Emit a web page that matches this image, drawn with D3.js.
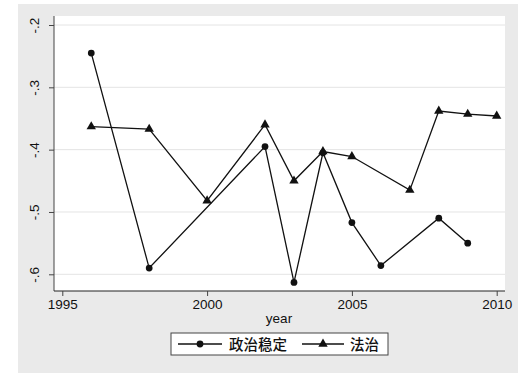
<!DOCTYPE html>
<html><head><meta charset="utf-8">
<script src="https://cdn.jsdelivr.net/npm/d3@7"></script>
<style>body{margin:0;background:#fff}svg{display:block}</style>
</head><body>
<svg id="c" width="529" height="381"></svg>
<script>
const stabilityYears = [1996, 1998, 2002, 2003, 2004, 2005, 2006, 2008, 2009];
const stabilityValues = [-0.245, -0.590, -0.395, -0.613, -0.405, -0.517, -0.586, -0.510, -0.550];
const ruleYears = [1996, 1998, 2000, 2002, 2003, 2004, 2005, 2007, 2008, 2009, 2010];
const ruleValues = [-0.363, -0.367, -0.482, -0.360, -0.450, -0.403, -0.411, -0.465, -0.338, -0.343, -0.346];
const xTicks = [1995, 2000, 2005, 2010];
const yTicks = [-0.2, -0.3, -0.4, -0.5, -0.6];
const yTickLabels = ["-.2", "-.3", "-.4", "-.5", "-.6"];
const seriesNames = ["政治稳定", "法治"];

const svg = d3.select("#c");
const font = "'Liberation Sans', Arial, sans-serif";
const cjk = "'Noto Sans CJK SC', sans-serif";

svg.append("rect").attr("x", 18).attr("y", 4).attr("width", 500).attr("height", 369).attr("fill", "#eaeaea");
const pl = 54, pr = 505, pt = 16, pb = 291;
svg.append("rect").attr("x", pl).attr("y", pt).attr("width", pr - pl).attr("height", pb - pt).attr("fill", "#fff");

const x = d3.scaleLinear().domain([1995, 2010]).range([62.3, 496.7]);
const y = d3.scaleLinear().domain([-0.2, -0.6]).range([25, 274.3]);

svg.append("g").selectAll("line").data(yTicks).join("line")
  .attr("x1", pl).attr("x2", pr).attr("y1", d => y(d)).attr("y2", d => y(d))
  .attr("stroke", "#e4e4e4").attr("stroke-width", 1);

const yAxis = svg.append("g").attr("transform", `translate(${pl},0)`)
  .call(d3.axisLeft(y).tickValues(yTicks).tickSize(5).tickFormat((d, i) => yTickLabels[i]));
yAxis.select(".domain").attr("d", `M0,${pt}V${pb}`).attr("stroke", "#444");
yAxis.selectAll(".tick line").attr("stroke", "#444");
yAxis.selectAll(".tick text").attr("font-family", font).attr("font-size", 13.5).attr("fill", "#111")
  .attr("text-anchor", "middle").attr("dy", 0).attr("x", 0)
  .attr("transform", "translate(-15,0) rotate(-90)");

const xAxis = svg.append("g").attr("transform", `translate(0,${pb})`)
  .call(d3.axisBottom(x).tickValues(xTicks).tickSize(5).tickFormat(d3.format("d")));
xAxis.select(".domain").attr("d", `M${pl},0H${pr}`).attr("stroke", "#222");
xAxis.selectAll(".tick line").attr("stroke", "#444");
xAxis.selectAll(".tick text").attr("font-family", font).attr("font-size", 13.5).attr("fill", "#111").attr("y", 8).attr("dy", "0.71em");

svg.append("text").attr("x", 279).attr("y", 323).attr("text-anchor", "middle")
  .attr("font-family", font).attr("font-size", 13.5).attr("fill", "#111").text("year");

const line = d3.line().x(d => x(d[0])).y(d => y(d[1]));
const s1 = stabilityYears.map((d, i) => [d, stabilityValues[i]]);
const s2 = ruleYears.map((d, i) => [d, ruleValues[i]]);

svg.append("path").datum(s1).attr("d", line).attr("fill", "none").attr("stroke", "#111").attr("stroke-width", 1.3);
svg.append("path").datum(s2).attr("d", line).attr("fill", "none").attr("stroke", "#111").attr("stroke-width", 1.3);

const circ = d3.symbol().type(d3.symbolCircle).size(36);
const tri = d3.symbol().type(d3.symbolTriangle).size(38);
svg.append("g").selectAll("path").data(s1).join("path")
  .attr("transform", d => `translate(${x(d[0])},${y(d[1])})`).attr("d", circ).attr("fill", "#111");
svg.append("g").selectAll("path").data(s2).join("path")
  .attr("transform", d => `translate(${x(d[0])},${y(d[1])})`).attr("d", tri).attr("fill", "#111");

const lg = svg.append("g");
lg.append("rect").attr("x", 171).attr("y", 333).attr("width", 217).attr("height", 22)
  .attr("fill", "#fff").attr("stroke", "#444").attr("stroke-width", 1);
lg.append("line").attr("x1", 178).attr("x2", 222).attr("y1", 344).attr("y2", 344).attr("stroke", "#111").attr("stroke-width", 1.3);
lg.append("path").attr("transform", "translate(200,344)").attr("d", circ).attr("fill", "#111");
lg.append("text").attr("x", 229).attr("y", 349.5).attr("font-family", cjk).attr("font-size", 14.5).attr("font-weight", 500).attr("fill", "#111").text(seriesNames[0]);
lg.append("line").attr("x1", 302).attr("x2", 344).attr("y1", 344).attr("y2", 344).attr("stroke", "#111").attr("stroke-width", 1.3);
lg.append("path").attr("transform", "translate(323,344)").attr("d", tri).attr("fill", "#111");
lg.append("text").attr("x", 350).attr("y", 349.5).attr("font-family", cjk).attr("font-size", 14.5).attr("font-weight", 500).attr("fill", "#111").text(seriesNames[1]);
</script>
</body></html>
